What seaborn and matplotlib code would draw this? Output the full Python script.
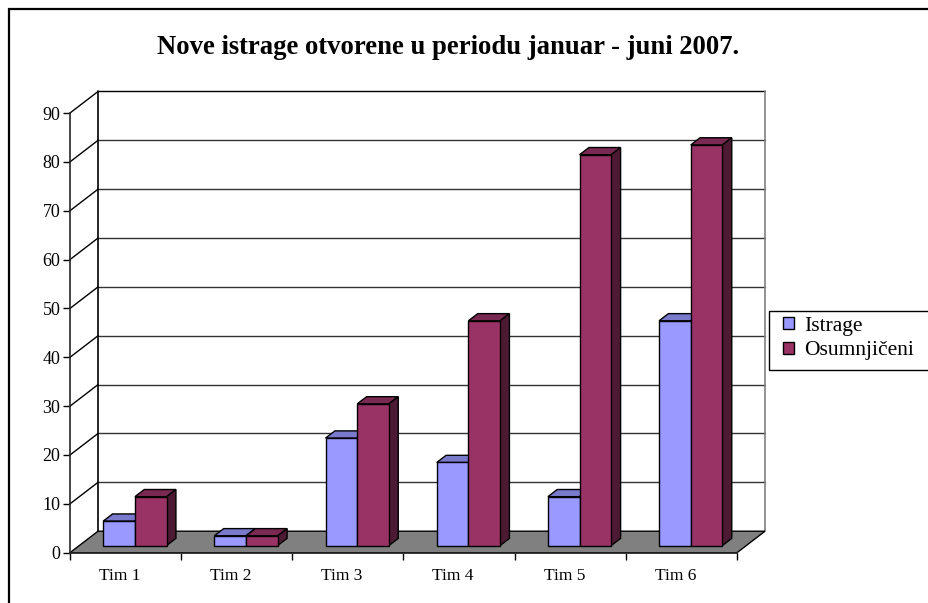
import matplotlib
matplotlib.use("Agg")
import matplotlib.pyplot as plt
from matplotlib.patches import Polygon, Rectangle
import pandas as pd
import seaborn as sns

# Podaci
timovi = ["Tim 1", "Tim 2", "Tim 3", "Tim 4", "Tim 5", "Tim 6"]
istrage = [5, 2, 22, 17, 10, 46]
osumnjiceni = [10, 2, 29, 46, 80, 82]
serije = ["Istrage", "Osumnjičeni"]
y_ticks = [0, 10, 20, 30, 40, 50, 60, 70, 80, 90]

boje = {"Istrage": "#9999FF", "Osumnjičeni": "#993366"}
boje_vrh = {"Istrage": "#7A7ACC", "Osumnjičeni": "#7A2952"}
boje_strana = {"Istrage": "#4D4D80", "Osumnjičeni": "#4D1A33"}

sns.set_style("white")
plt.rcParams["font.family"] = ["Liberation Serif", "DejaVu Serif"]
plt.rcParams["text.color"] = "black"
plt.rcParams["xtick.color"] = "black"
plt.rcParams["ytick.color"] = "black"

df = pd.DataFrame({
    "Tim": timovi * 2,
    "Broj": istrage + osumnjiceni,
    "Serija": [serije[0]] * len(timovi) + [serije[1]] * len(timovi),
})

W, H = 929, 603
fig = plt.figure(figsize=(W / 100, H / 100), dpi=100)

# okvir (desna i donja ivica su izvan slike)
fig.patches.append(Rectangle((9 / W, -0.1), 1.2, 1 - 9 / H + 0.1, transform=fig.transFigure,
                             fill=False, edgecolor="black", linewidth=1.6))

# prednja ravan grafikona
x0, x1, y0, y90 = 70, 737, 552.7, 113
ax = fig.add_axes([x0 / W, (H - y0) / H, (x1 - x0) / W, (y0 - y90) / H])

sns.barplot(data=df, x="Tim", y="Broj", hue="Serija", palette=boje, width=0.57,
            saturation=1, edgecolor="black", linewidth=1, legend=False, ax=ax)

ax.set_xlim(-0.5, len(timovi) - 0.5)
ax.set_ylim(0, 90)

# dubina u jedinicama podataka
px_kat = (x1 - x0) / len(timovi)
px_jed = (y0 - y90) / 90
DX = 28 / px_kat
DY = 21.5 / px_jed

xl, xr = -0.5, len(timovi) - 0.5

# pod
ax.add_patch(Polygon([(xl, 0), (xr, 0), (xr + DX, DY), (xl + DX, DY)], closed=True,
                     facecolor="#808080", edgecolor="black", linewidth=1, zorder=1, clip_on=False))

# zadnji zid i mreža
for v in y_ticks[1:]:
    ax.plot([xl + DX, xr + DX], [v + DY, v + DY], color="#333333" if v < 90 else "black",
            linewidth=1, zorder=0.5, clip_on=False)
    ax.plot([xl, xl + DX], [v, v + DY], color="black", linewidth=1, zorder=0.5, clip_on=False)
ax.plot([xl + DX, xl + DX], [DY, 90 + DY], color="black", linewidth=1.2, zorder=0.6, clip_on=False)
ax.plot([xr + DX, xr + DX], [DY, 90 + DY], color="#808080", linewidth=1.2, zorder=0.6, clip_on=False)

# 3D izgled stubova
dx, dy = DX / 3, DY / 3
for k, (serija, cont) in enumerate(zip(serije, ax.containers)):
    z = 3 + 2 * k
    for bar in cont:
        bar.set_x(bar.get_x() + dx)
        bar.set_y(dy)
        bar.set_zorder(z)
        bx, bw, bh = bar.get_x(), bar.get_width(), bar.get_height()
        top = dy + bh
        ax.add_patch(Polygon([(bx, top), (bx + bw, top), (bx + bw + dx, top + dy), (bx + dx, top + dy)],
                             closed=True, facecolor=boje_vrh[serija], edgecolor="black",
                             linewidth=1, zorder=z - 0.1, clip_on=False))
        ax.add_patch(Polygon([(bx + bw, dy), (bx + bw + dx, 2 * dy), (bx + bw + dx, top + dy), (bx + bw, top)],
                             closed=True, facecolor=boje_strana[serija], edgecolor="black",
                             linewidth=1, zorder=z - 0.1, clip_on=False))

# ose
for s in ["top", "right"]:
    ax.spines[s].set_visible(False)
for s in ["left", "bottom"]:
    ax.spines[s].set_linewidth(1.2)
    ax.spines[s].set_zorder(2)
ax.set_yticks(y_ticks)
pomak = 6 / px_kat
ax.set_xticks([i - pomak for i in range(len(timovi))])
ax.set_xticklabels(timovi)
ax.set_xticks([i - 0.5 for i in range(len(timovi) + 1)], minor=True)
ax.tick_params(axis="y", direction="out", length=5, width=1, pad=2, labelsize=13, left=True)
ax.tick_params(axis="x", which="major", length=0, pad=11, labelsize=12.5)
ax.tick_params(axis="x", which="minor", direction="out", length=5, width=1, bottom=True)
ax.set_xlabel("")
ax.set_ylabel("")
ax.patch.set_alpha(0)

fig.text(448 / W, 1 - 48 / H, "Nove istrage otvorene u periodu januar - juni 2007.",
         ha="center", va="center", fontsize=19.2, fontweight="bold")

# legenda
fig.patches.append(Rectangle((769 / W, 1 - 370 / H), 160 / W, 59 / H, transform=fig.transFigure,
                             fill=False, edgecolor="black", linewidth=1))
ruke = [Rectangle((0, 0), 1, 1, facecolor=boje[s], edgecolor="black", linewidth=1) for s in serije]
leg = fig.legend(ruke, serije, loc="upper left", bbox_to_anchor=(783 / W, 1 - 317 / H),
                 frameon=False, fontsize=15.5, handlelength=0.5, handleheight=0.5,
                 handletextpad=0.5, borderpad=0, labelspacing=0.25, borderaxespad=0)

fig.savefig("out.png", dpi=100)
